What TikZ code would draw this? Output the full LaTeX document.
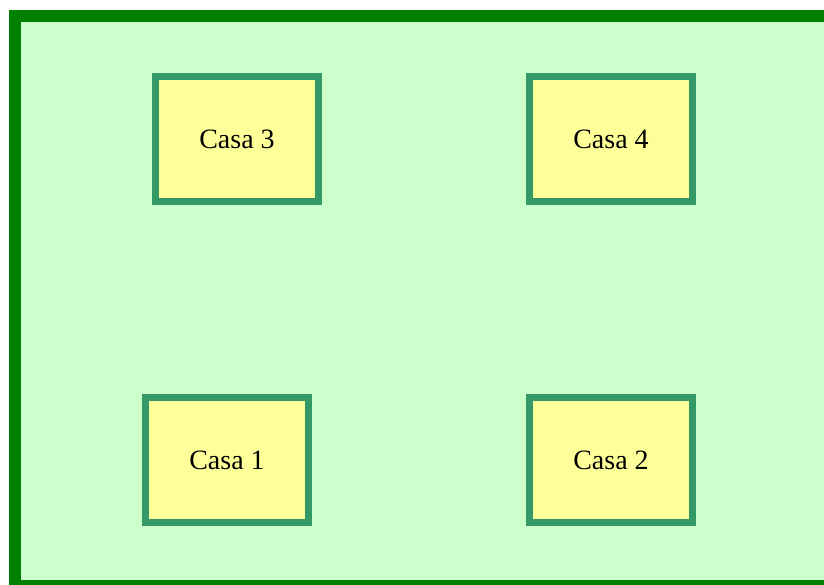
\documentclass[tikz,border=0pt]{standalone}
\usepackage{fontspec}
\setmainfont{Liberation Serif}
\definecolor{lawn}{HTML}{CCFFCC}
\definecolor{fence}{HTML}{008000}
\definecolor{housefill}{HTML}{FFFF99}
\definecolor{houseedge}{HTML}{339966}
\tikzset{
  house/.style={draw=houseedge, fill=housefill, line width=3.5pt,
    minimum width=81.5pt, minimum height=62.5pt, inner sep=0pt,
    font=\fontsize{14}{16}\selectfont},
}
\begin{document}
\begin{tikzpicture}[x=0.5pt, y=-0.5pt]
  \useasboundingbox (0,0) rectangle (824,584);
  \clip (0,0) rectangle (824,584);
  % garden plot with its fence
  \draw[fence, fill=lawn, line width=6pt] (15,16) rectangle (850,586);
  % houses
  \node[house] (c3) at (237,139) {Casa 3};
  \node[house] (c4) at (611,139) {Casa 4};
  \node[house] (c1) at (227,460) {Casa 1};
  \node[house] (c2) at (611,460) {Casa 2};
\end{tikzpicture}
\end{document}
